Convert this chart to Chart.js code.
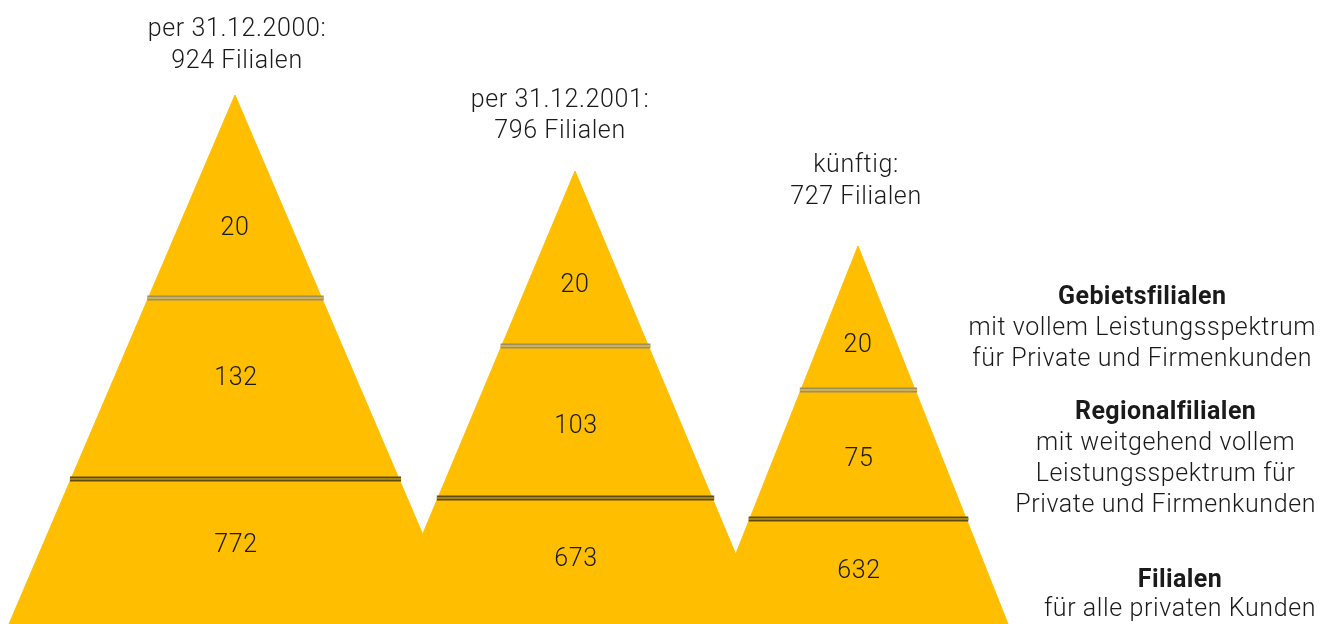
<!DOCTYPE html>
<html>
<head>
<meta charset="utf-8">
<script src="https://cdn.jsdelivr.net/npm/chart.js@4.4.1/dist/chart.umd.min.js"></script>
<style>
  html, body { margin: 0; padding: 0; background: #ffffff; }
  #wrap { width: 1324px; height: 624px; position: relative; }
</style>
</head>
<body>
<div id="wrap"><canvas id="c"></canvas></div>
<script>
// ---- data ----
const periods = ['per 31.12.2000:', 'per 31.12.2001:', 'künftig:'];
const totals = [924, 796, 727];
const gebietsfilialen = [20, 20, 20];
const regionalfilialen = [132, 103, 75];
const filialen = [772, 673, 632];
const categoryTitles = ['Gebietsfilialen', 'Regionalfilialen', 'Filialen'];
const categoryTexts = [
  ['mit vollem Leistungsspektrum', 'für Private und Firmenkunden'],
  ['mit weitgehend vollem', 'Leistungsspektrum für', 'Private und Firmenkunden'],
  ['für alle privaten Kunden']
];
// schematic mountain shape (chart units)
const peakX = [235, 575, 858];
const peakHeight = [529, 453, 378];
const baseHalfWidth = [226, 190, 150];
const upperBoundary = [326, 278, 234];
const lowerBoundary = [145, 126, 105];

// ---- layout / style ----
const GOLD = '#FFBF00';
const FONT = 'Roboto, "Liberation Sans", Arial, sans-serif';
const REG = '300 25px ' + FONT;
const BOLD = 'bold 25px ' + FONT;
const titleOffsets = [[65, 33], [70, 39], [80, 48]];
const titleDx = [2, -15, -2];
const topLabelDy = [0, -1, 5];
const midLabelDy = [-10, 5, 5];
const lowLabelDy = [-6, -1, 0];
const blockTops = [298, 413, 581];
const blockGaps = [31, 31, 29];

function edgeAt(i, h) {
  const half = baseHalfWidth[i] * (1 - h / peakHeight[i]);
  return [peakX[i] - half, peakX[i] + half];
}

const datasets = [];
for (let i = 0; i < peakX.length; i++) {
  datasets.push({
    label: 'mountain' + i,
    data: [
      { x: peakX[i] - baseHalfWidth[i], y: 0 },
      { x: peakX[i], y: peakHeight[i] },
      { x: peakX[i] + baseHalfWidth[i], y: 0 }
    ],
    showLine: true, fill: 'origin', backgroundColor: GOLD,
    borderColor: GOLD, borderWidth: 1, pointRadius: 0, order: 5, tension: 0
  });
}
const sepStyles = [
  { outer: '#a08e5a', inner: '#d9bd62' },
  { outer: '#5f4a12', inner: '#b8961e' }
];
[upperBoundary, lowerBoundary].forEach((arr, k) => {
  for (let i = 0; i < arr.length; i++) {
    const [l, r] = edgeAt(i, arr[i]);
    const pts = [{ x: l - 1, y: arr[i] }, { x: r + 2, y: arr[i] }];
    datasets.push({ data: pts, showLine: true, fill: false, borderColor: sepStyles[k].outer,
      borderWidth: 5, pointRadius: 0, order: 3, borderCapStyle: 'butt' });
    datasets.push({ data: pts, showLine: true, fill: false, borderColor: sepStyles[k].inner,
      borderWidth: 1.4, pointRadius: 0, order: 2, borderCapStyle: 'butt' });
  }
});

function setSpacing(ctx, v) { try { ctx.letterSpacing = v; } catch (e) {} }

const textPlugin = {
  id: 'texts',
  afterDraw(chart) {
    const ctx = chart.ctx;
    const xs = chart.scales.x, ys = chart.scales.y;
    ctx.save();
    ctx.textAlign = 'center';
    ctx.textBaseline = 'middle';
    ctx.fillStyle = '#1a1a1a';
    ctx.font = REG;
    setSpacing(ctx, '0.6px');
    for (let i = 0; i < peakX.length; i++) {
      const px = xs.getPixelForValue(peakX[i]);
      const py = ys.getPixelForValue(peakHeight[i]);
      ctx.fillText(periods[i], px + titleDx[i], py - titleOffsets[i][0]);
      ctx.fillText(totals[i] + ' Filialen', px + titleDx[i], py - titleOffsets[i][1]);
      const yU = ys.getPixelForValue(upperBoundary[i]);
      const yL = ys.getPixelForValue(lowerBoundary[i]);
      const yB = ys.getPixelForValue(0);
      ctx.fillText(String(gebietsfilialen[i]), px, py + (yU - py) * 0.66 + topLabelDy[i]);
      ctx.fillText(String(regionalfilialen[i]), px + 1, (yU + yL) / 2 + midLabelDy[i]);
      ctx.fillText(String(filialen[i]), px + 1, (yL + yB) / 2 + lowLabelDy[i]);
    }
    // category legend at right
    const rightEdge = xs.getPixelForValue(1316);
    for (let k = 0; k < categoryTitles.length; k++) {
      ctx.font = BOLD; setSpacing(ctx, '0.4px');
      let w = ctx.measureText(categoryTitles[k]).width;
      ctx.font = REG; setSpacing(ctx, '0.6px');
      categoryTexts[k].forEach(t => { w = Math.max(w, ctx.measureText(t).width); });
      const cx = rightEdge - w / 2;
      let y = blockTops[k];
      ctx.font = BOLD; setSpacing(ctx, '0.4px');
      ctx.fillText(categoryTitles[k], cx, y);
      ctx.font = REG; setSpacing(ctx, '0.6px');
      categoryTexts[k].forEach(t => { y += blockGaps[k]; ctx.fillText(t, cx, y); });
    }
    ctx.restore();
  }
};

new Chart(document.getElementById('c'), {
  type: 'scatter',
  data: { datasets },
  options: {
    responsive: true, maintainAspectRatio: false, animation: false,
    layout: { padding: 0 },
    plugins: { legend: { display: false }, tooltip: { enabled: false } },
    scales: {
      x: { type: 'linear', min: 0, max: 1324, display: false },
      y: { type: 'linear', min: 0, max: 624, display: false }
    }
  },
  plugins: [textPlugin]
});
</script>
</body>
</html>
